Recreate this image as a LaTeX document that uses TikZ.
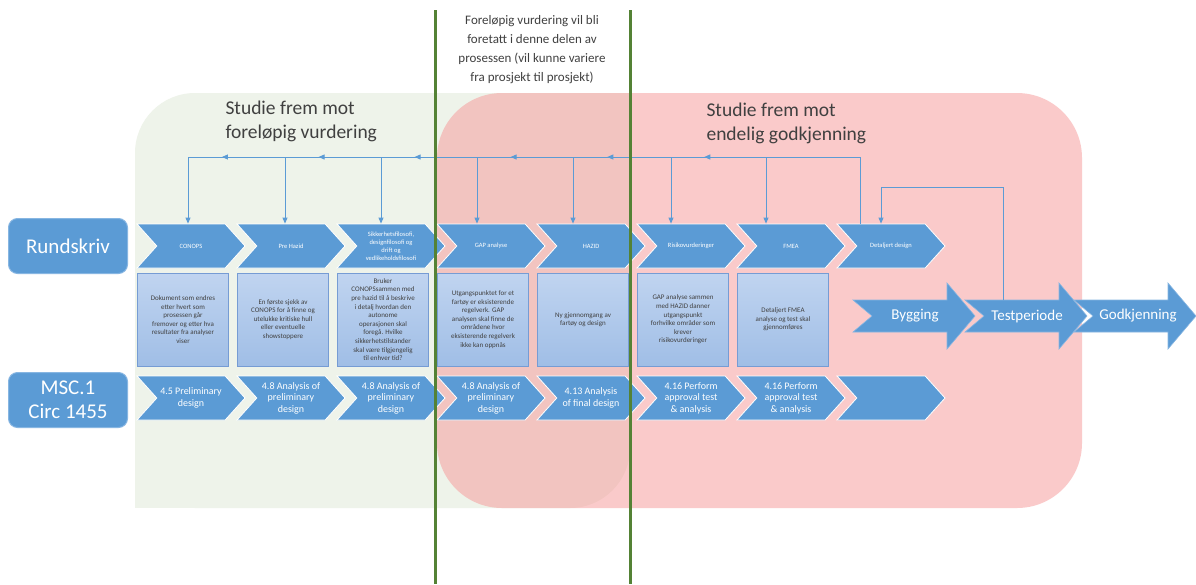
\documentclass[tikz,border=0pt]{standalone}
\usepackage{fontspec}
\setmainfont{Carlito}
\usetikzlibrary{shapes.symbols,arrows.meta,decorations.markings}

\definecolor{blaa}{RGB}{91,155,213}
\definecolor{blaakant}{RGB}{135,182,226}
\definecolor{boksfyll}{RGB}{160,190,230}
\definecolor{bokslys}{RGB}{192,212,240}
\definecolor{bokskant}{RGB}{118,156,212}
\definecolor{gronnfelt}{RGB}{238,243,234}
\definecolor{rosafelt}{RGB}{247,151,151}
\definecolor{gronnlinje}{RGB}{84,130,53}
\definecolor{tekstgraa}{RGB}{64,64,64}

\tikzset{
  chevron/.style={signal, signal from=west, signal to=east, signal pointer angle=96,
    fill=blaa, draw=white, line width=0.8pt, minimum width=108pt, minimum height=44pt,
    inner sep=0pt, text=white, align=center, font=\fontsize{6.5}{8}\selectfont},
  chevronlav/.style={chevron, font=\fontsize{10}{11.5}\selectfont},
  boks/.style={rectangle, draw=bokskant, line width=0.6pt, top color=bokslys,
    bottom color=boksfyll, minimum width=91pt, minimum height=93pt, inner sep=2pt,
    text=tekstgraa, align=center, font=\fontsize{7}{8.6}\selectfont},
  regel/.style={rectangle, rounded corners=9pt, fill=blaa, draw=blaakant, line width=1pt,
    minimum width=119pt, minimum height=55pt, text=white, align=center,
    font=\fontsize{21}{24}\selectfont},
  linje/.style={draw=blaa, line width=0.9pt},
  pil/.style={linje, -{Triangle[length=6pt,width=5pt]}},
  midtpil/.style={linje, postaction={decorate}, decoration={markings,
    mark=at position 0.65 with {\arrow{Triangle[length=6pt,width=5pt]}}}},
  storpil/.style={fill=blaa, draw=blaakant, line width=0.6pt},
  piltekst/.style={text=white, font=\fontsize{15}{18}\selectfont},
  overskrift/.style={text=tekstgraa, align=left, font=\fontsize{19.5}{24}\selectfont},
  skille/.style={draw=gronnlinje, line width=3pt}
}

\begin{document}
\begin{tikzpicture}[x=1pt,y=-1pt]
    \useasboundingbox (0,0) rectangle (1196,584);
    \fill[white] (0,0) rectangle (1196,584);

    % Felt i bakgrunnen
    \fill[gronnfelt, rounded corners=60pt] (135,93) rectangle (630,508);
    \fill[gronnfelt] (570,93) rectangle (630,160);
    \fill[gronnfelt] (135,440) rectangle (200,508);
    \fill[rosafelt, fill opacity=0.5, rounded corners=65pt] (437,93) rectangle (1082,508);

    % Overskrifter
    \node[overskrift, anchor=west] (studie1) at (222,121) {Studie frem mot\\foreløpig vurdering};
    \node[overskrift, anchor=west] (studie2) at (703,123) {Studie frem mot\\endelig godkjenning};

    % Regelverk til venstre
    \node[regel] (rundskriv) at (68,246) {Rundskriv};
    \node[regel] (msc) at (68,400) {MSC.1\\Circ 1455};

    % Prosesstrinn
    \node[chevron] (conops) at (191,246) {CONOPS};
    \node[chevron] (prehazid) at (291,246) {Pre Hazid};
    \node[chevron] (filosofi) at (391,246) {Sikkerhetsfilosofi,\\designfilosofi og\\drift og\\vedlikeholdsfilosofi};
    \node[chevron] (gap) at (491,246) {GAP analyse};
    \node[chevron] (hazid) at (591,246) {HAZID};
    \node[chevron] (risiko) at (691,246) {Risikovurderinger};
    \node[chevron] (fmea) at (791,246) {FMEA};
    \node[chevron] (detaljert) at (891,246) {Detaljert design};

    % Beskrivelser
    \node[boks] (b1) at (183,319.5) {Dokument som endres\\etter hvert som\\prosessen går\\fremover og etter hva\\resultater fra analyser\\viser};
    \node[boks] (b2) at (283,319.5) {En første sjekk av\\CONOPS for å finne og\\utelukke kritiske hull\\eller eventuelle\\showstoppere};
    \node[boks] (b3) at (383,319.5) {Bruker\\CONOPSsammen med\\pre hazid til å beskrive\\i detalj hvordan den\\autonome\\operasjonen skal\\foregå. Hvilke\\sikkerhetstilstander\\skal være tilgjengelig\\til enhver tid?};
    \node[boks] (b4) at (483,319.5) {Utgangspunktet for et\\fartøy er eksisterende\\regelverk. GAP\\analysen skal finne de\\områdene hvor\\eksisterende regelverk\\ikke kan oppnås};
    \node[boks] (b5) at (583,319.5) {Ny gjennomgang av\\fartøy og design};
    \node[boks] (b6) at (683,319.5) {GAP analyse sammen\\med HAZID danner\\utgangspunkt\\forhvilke områder som\\krever\\risikovurderinger};
    \node[boks] (b7) at (783,319.5) {Detaljert FMEA\\analyse og test skal\\gjennomføres};

    % Kapitler i MSC.1/Circ.1455
    \node[chevronlav] (k45) at (191,398) {4.5 Preliminary\\design};
    \node[chevronlav] (k48a) at (291,398) {4.8 Analysis of\\preliminary\\design};
    \node[chevronlav] (k48b) at (391,398) {4.8 Analysis of\\preliminary\\design};
    \node[chevronlav] (k48c) at (491,398) {4.8 Analysis of\\preliminary\\design};
    \node[chevronlav] (k413) at (591,398) {4.13 Analysis\\of final design};
    \node[chevronlav] (k416a) at (691,398) {4.16 Perform\\approval test\\\& analysis};
    \node[chevronlav] (k416b) at (791,398) {4.16 Perform\\approval test\\\& analysis};
    \node[chevronlav] (ktom) at (891,398) {};

    % Tilbakekobling
    \coordinate (p1) at (188,157);
    \coordinate (p2) at (285,157);
    \coordinate (p3) at (381,157);
    \coordinate (p4) at (477,157);
    \coordinate (p5) at (573,157);
    \coordinate (p6) at (671,157);
    \coordinate (p7) at (766,157);
    \coordinate (p8) at (860,157);
    \draw[linje] (p8 |- detaljert.north) -- (p8) -- (p7);
    \draw[midtpil] (p7) -- (p6);
    \draw[midtpil] (p6) -- (p5);
    \draw[midtpil] (p5) -- (p4);
    \draw[midtpil] (p4) -- (p3);
    \draw[midtpil] (p3) -- (p2);
    \draw[midtpil] (p2) -- (p1);
    \draw[pil] (p1) -- (p1 |- conops.north);
    \draw[pil] (p2) -- (p2 |- prehazid.north);
    \draw[pil] (p3) -- (p3 |- filosofi.north);
    \draw[pil] (p4) -- (p4 |- gap.north);
    \draw[pil] (p5) -- (p5 |- hazid.north);
    \draw[pil] (p6) -- (p6 |- risiko.north);
    \draw[pil] (p7) -- (p7 |- fmea.north);

    % Store piler
    \draw[storpil] (853,300) -- (947,300) -- (947,283) -- (975,316) -- (947,349) -- (947,332) -- (853,332) -- (872,316) -- cycle;
    \draw[storpil] (965,300) -- (1059,300) -- (1059,283) -- (1087,316) -- (1059,349) -- (1059,332) -- (965,332) -- (984,316) -- cycle;
    \draw[storpil] (1074,300) -- (1168,300) -- (1168,283) -- (1196,316) -- (1168,349) -- (1168,332) -- (1074,332) -- (1093,316) -- cycle;
    \node[piltekst] (bygging) at (915,316) {Bygging};
    \node[piltekst] (test) at (1027,316) {Testperiode};
    \node[piltekst] (godkjenning) at (1138,316) {Godkjenning};

    % Fra testperiode tilbake til detaljert design
    \coordinate (tilbake) at (1003,300);
    \coordinate (hjorne) at (881,187);
    \draw[pil] (tilbake) |- (hjorne) -- (hjorne |- detaljert.north);

    % Skillelinjer og merknad
    \draw[skille] (435,10) -- (435,584);
    \draw[skille] (630,10) -- (630,584);
    \node[text=tekstgraa, align=center, font=\fontsize{13}{19}\selectfont] (merknad) at (532,50)
        {Foreløpig vurdering vil bli\\foretatt i denne delen av\\prosessen (vil kunne variere\\fra prosjekt til prosjekt)};
\end{tikzpicture}
\end{document}
